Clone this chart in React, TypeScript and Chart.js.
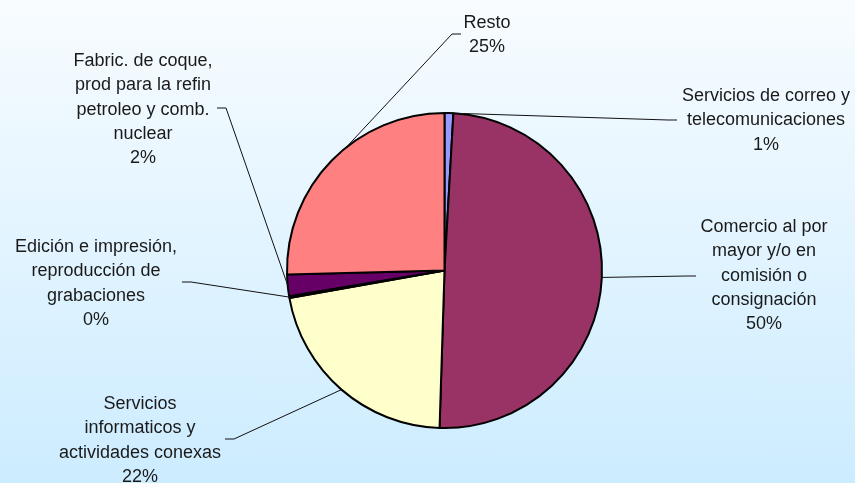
import { useEffect, useRef } from "react"
import { Chart, registerables } from "chart.js"

Chart.register(...registerables)

const categories = [
  ["Servicios de correo y", "telecomunicaciones"],
  ["Comercio al por", "mayor y/o en", "comisión o", "consignación"],
  ["Servicios", "informaticos y", "actividades conexas"],
  ["Edición e impresión,", "reproducción de", "grabaciones"],
  ["Fabric. de coque,", "prod para la refin", "petroleo y comb.", "nuclear"],
  ["Resto"],
]
const shares = [0.9, 49.6, 21.7, 0.2, 2.2, 25.4]
const sliceColors = ["#9999FF", "#993366", "#FFFFCC", "#CCFFFF", "#660066", "#FF8080"]

// where each label sits: text centre x / first line y, the label end of its leader,
// which way the short elbow points, and how far along the slice the leader meets the rim
const labelLayout = [
  { x: 766, y: 96, lx: 677, ly: 120, dir: -1, at: 0.5 },
  { x: 764, y: 227, lx: 696, ly: 276, dir: -1, at: 0.5 },
  { x: 140, y: 404, lx: 225, ly: 439, dir: 1, at: 0.5 },
  { x: 96, y: 247, lx: 182, ly: 282, dir: 1, at: 0.5 },
  { x: 143, y: 61, lx: 217, ly: 108, dir: 1, at: 0.5 },
  { x: 487, y: 23, lx: 461, ly: 34, dir: -1, at: 0.575 },
]

const LINE_HEIGHT = 24.3

const outsideLabels = {
  id: "outsideLabels",
  afterDatasetsDraw(chart: Chart) {
    const ctx = chart.ctx
    const meta = chart.getDatasetMeta(0)
    const total = shares.reduce((a, b) => a + b, 0)
    ctx.save()
    meta.data.forEach((arc: any, i: number) => {
      const { x, y, startAngle, endAngle, outerRadius } = arc.getProps(
        ["x", "y", "startAngle", "endAngle", "outerRadius"],
        true,
      )
      const lay = labelLayout[i]
      const a = startAngle + (endAngle - startAngle) * lay.at
      const px = x + Math.cos(a) * outerRadius
      const py = y + Math.sin(a) * outerRadius

      // leader line
      ctx.strokeStyle = "#111"
      ctx.lineWidth = 1
      ctx.beginPath()
      ctx.moveTo(lay.lx, lay.ly)
      ctx.lineTo(lay.lx + lay.dir * 9, lay.ly)
      ctx.lineTo(px, py)
      ctx.stroke()

      // text
      const lines = [...categories[i], `${Math.round((shares[i] / total) * 100)}%`]
      ctx.fillStyle = "#1a1a1a"
      ctx.font = '18px "Liberation Sans", Arial, sans-serif'
      ctx.textAlign = "center"
      ctx.textBaseline = "middle"
      lines.forEach((line, k) => {
        ctx.fillText(line, lay.x, lay.y + k * LINE_HEIGHT)
      })
    })
    ctx.restore()
  },
}

export default function App() {
  const chartRef = useRef<HTMLCanvasElement>(null)
  const chartInstance = useRef<Chart | null>(null)

  useEffect(() => {
    if (!chartRef.current) return

    if (chartInstance.current) {
      chartInstance.current.destroy()
    }

    const ctx = chartRef.current.getContext("2d")
    if (!ctx) return

    chartInstance.current = new Chart(ctx, {
      type: "pie",
      data: {
        labels: categories.map((c) => c.join(" ")),
        datasets: [
          {
            data: shares,
            backgroundColor: sliceColors,
            borderColor: "#000",
            borderWidth: 2,
            radius: 157.5,
          } as any,
        ],
      },
      options: {
        responsive: false,
        animation: false,
        layout: {
          padding: { left: 287, right: 253, top: 113, bottom: 55 },
        },
        plugins: {
          legend: { display: false },
          tooltip: { enabled: false },
        },
      },
      plugins: [outsideLabels],
    })

    return () => {
      if (chartInstance.current) {
        chartInstance.current.destroy()
        chartInstance.current = null
      }
    }
  }, [])

  return (
    <div
      style={{
        position: "absolute",
        left: 0,
        top: 0,
        width: 855,
        height: 483,
        background: "linear-gradient(to bottom, #F8FCFF 0%, #CCECFF 100%)",
      }}
    >
      <canvas ref={chartRef} width={855} height={483} />
    </div>
  )
}
